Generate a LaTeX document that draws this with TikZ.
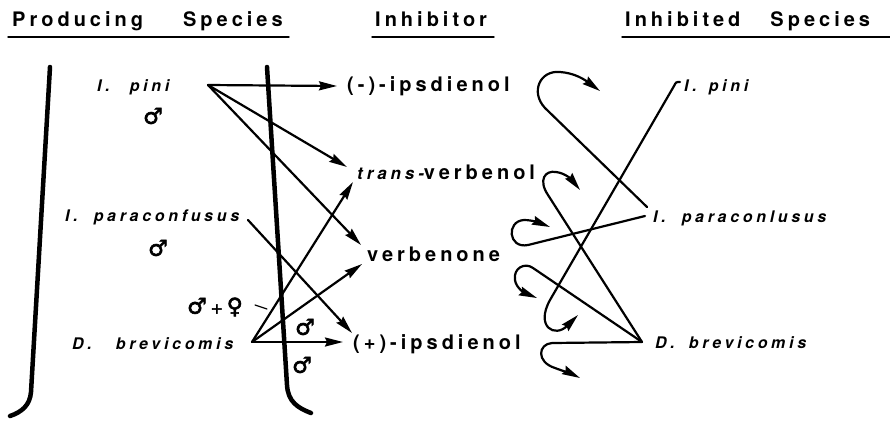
\documentclass[tikz,border=0pt]{standalone}
\usepackage{fontspec}
\setmainfont{TeX Gyre Heros}
\newfontfamily\wide{TeX Gyre Heros}[LetterSpace=20]
\newfontfamily\widesp{TeX Gyre Heros}[LetterSpace=23]
\newfontfamily\sexfont{DejaVu Sans}[FakeBold=2.5]
\usetikzlibrary{arrows.meta}
\begin{document}
\begin{tikzpicture}[x=1pt,y=-1pt,line cap=round,
  hdr/.style={anchor=base west,inner sep=0pt,font=\wide\bfseries\fontsize{20}{24}\selectfont},
  sp/.style={anchor=base west,inner sep=0pt,font=\widesp\bfseries\itshape\fontsize{16}{19}\selectfont},
  inh/.style={anchor=base west,inner sep=0pt,font=\wide\bfseries\fontsize{20}{24}\selectfont},
  sex/.style={inner sep=0pt,font=\sexfont\fontsize{22}{26}\selectfont},
  uline/.style={line width=1.4pt},
  bar/.style={line width=4.5pt},
  arr/.style={line width=2.2pt,-{Stealth[length=18pt,width=9pt,inset=2pt]}}]
\useasboundingbox (0,0) rectangle (890,421);
% headings
\node[hdr] (hprod) at (12,26) {Producing\hspace{40pt}Species};
\node[hdr] (hinh) at (375,26) {Inhibitor};
\node[hdr] (hinhd) at (625,26) {Inhibited\hspace{30pt}Species};
\draw[uline] (8,37) -- (289,37);
\draw[uline] (372,37) -- (494,37);
\draw[uline] (622,37) -- (890,37);
% brackets
\draw[bar] (50,67) -- (31,392) .. controls (30,405) and (22,412) .. (10,416);
\draw[bar] (267,67) -- (287,385) .. controls (288,402) and (298,408) .. (311,413);
% producing species
\node[sp] (pini) at (97,91) {I.\hspace{20pt}pini};
\node[sex] (pinim) at (153,116) {♂};
\node[sp] (para) at (65,221) {I.\hspace{16pt}paraconfusus};
\node[sex] (param) at (158,248) {♂};
\node[sp] (brev) at (72,349) {D.\hspace{24pt}brevicomis};
\node[sex] (brevmf) at (215,307) {♂\,{\fontsize{15}{17}\selectfont+}\,♀};
\node[sex] (brevm1) at (305,327) {♂};
\node[sex] (brevm2) at (302,365) {♂};
\coordinate (pv) at (208,85);
\coordinate (pa) at (248,220);
\coordinate (bv) at (252,342);
\coordinate (mfdash) at (255,305);
\coordinate (mfend) at (267,309);
\draw[line width=1.2pt] (mfdash) -- (mfend);
% inhibitors
\node[inh] (ipsm) at (347,91) {(-)-ipsdienol};
\node[inh] (tverb) at (357,179) {{\widesp\itshape\fontsize{17}{20}\selectfont trans-}verbenol};
\node[inh] (verb) at (367,261) {verbenone};
\node[inh] (ipsp) at (353,349) {(+)-ipsdienol};
\coordinate (ipsm-in) at (337,86);
\coordinate (tverb-in1) at (347,167);
\coordinate (tverb-in2) at (353,182);
\coordinate (verb-in1) at (361,245);
\coordinate (verb-in2) at (362,264);
\coordinate (ipsp-in1) at (352,333);
\coordinate (ipsp-in2) at (343,342);
\draw[arr] (pv) -- (ipsm-in);
\draw[arr] (pv) -- (tverb-in1);
\draw[arr] (pv) -- (verb-in1);
\draw[arr] (pa) -- (ipsp-in1);
\draw[arr] (bv) -- (tverb-in2);
\draw[arr] (bv) -- (verb-in2);
\draw[arr] (bv) -- (ipsp-in2);
% inhibited species
\node[sp] (rpini) at (684,91) {I.\hspace{12pt}pini};
\node[sp] (rpara) at (653,222) {I.\hspace{16pt}paraconlusus};
\node[sp] (rbrev) at (655,348) {D.\hspace{14pt}brevicomis};
\coordinate (rpv) at (680,82);
\coordinate (rpa1) at (647,207);
\coordinate (rpa2) at (645,216);
\coordinate (rbv) at (642,342);
\draw[arr] (rpv) .. controls (676,82) .. (674,86) -- (550,300)
  .. controls (535,327) and (555,338) .. (578,315);
\draw[arr] (rpa1) -- (545,108) .. controls (530,92) and (540,70) .. (560,72)
  .. controls (575,73) and (585,80) .. (600,91);
\draw[arr] (rpa2) -- (528,245) .. controls (508,249) and (506,221) .. (524,220)
  .. controls (532,220) and (540,223) .. (550,227);
\draw[arr] (rbv) -- (548,195) .. controls (538,180) and (545,170) .. (556,172)
  .. controls (565,173) and (572,180) .. (580,190);
\draw[arr] (rbv) -- (533,268) .. controls (525,262) and (513,268) .. (515,280)
  .. controls (516,288) and (525,293) .. (537,298);
\draw[arr] (rbv) -- (552,343) .. controls (538,344) and (536,362) .. (555,368)
  .. controls (563,371) and (572,374) .. (580,378);
\end{tikzpicture}
\end{document}
